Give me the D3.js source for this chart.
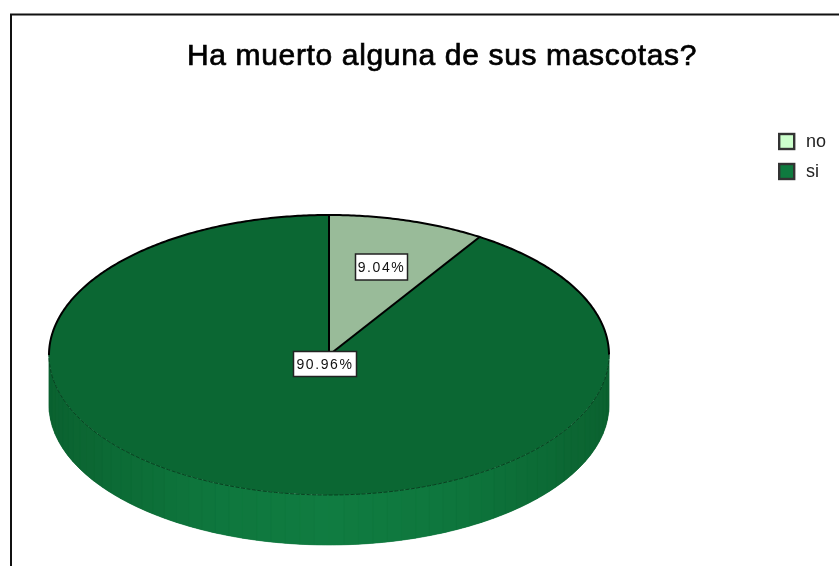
<!DOCTYPE html>
<html><head><meta charset="utf-8">
<script src="https://cdn.jsdelivr.net/npm/d3@7"></script>
<style>html,body{margin:0;padding:0;background:#fff}svg{display:block;filter:blur(0.35px)}text{font-family:"Liberation Sans",Arial,sans-serif}</style>
</head><body><svg id="c" width="839" height="566"></svg>
<script>
const categories = ["no", "si"];
const values = [9.04, 90.96];
const labels = ["9.04%", "90.96%"];
const titleText = "Ha muerto alguna de sus mascotas?";
const sliceColors = ["#99bb99", "#0b6733"];
const legendColors = ["#ccffcc", "#0f7a3f"];

const W = 839, H = 566, cx = 329, cy = 355, rx = 280, ry = 140, depth = 50;
const svg = d3.select("#c");

// frame
svg.append("path").attr("d", d3.line()([[11, H], [11, 14.5], [W, 14.5]]))
  .attr("fill", "none").attr("stroke", "#111").attr("stroke-width", 2);

// title
svg.append("text").attr("x", 442).attr("y", 64.5).attr("text-anchor", "middle")
  .attr("font-size", 30).attr("stroke", "#000").attr("stroke-width", 0.7)
  .attr("letter-spacing", 0.65).attr("fill", "#000").text(titleText);

// scales
const pie = d3.pie().sort(null).value(d => d)(values);
const xOf = a => cx + rx * Math.sin(a), yOf = a => cy - ry * Math.cos(a);
const shade = d3.scaleLinear().domain([0, 0.45, 1]).range(["#107c41", "#0e763d", "#0b6230"]);

// side wall: underlay first so band seams stay invisible
const front = d3.range(Math.PI / 2, 3 * Math.PI / 2 + 0.001, Math.PI / 180);
const wall = front.map(a => [xOf(a), yOf(a)]).concat(front.slice().reverse().map(a => [xOf(a), yOf(a) + depth]));
svg.append("path").attr("d", d3.line()(wall) + "Z").attr("fill", shade(1));
const bandEdges = d3.range(Math.PI / 2, 3 * Math.PI / 2 + 0.001, Math.PI / 60);
const side = svg.append("g");
bandEdges.slice(0, -1).forEach((a0, i) => {
  const a1 = bandEdges[i + 1];
  const pts = d3.range(0, 1.001, 0.25).map(t => a0 + (a1 - a0) * t);
  const top = pts.map(a => [xOf(a), yOf(a)]);
  const bot = pts.slice().reverse().map(a => [xOf(a), yOf(a) + depth]);
  const col = shade(Math.abs(Math.sin((a0 + a1) / 2 - Math.PI)));
  side.append("path").attr("d", d3.line()(top.concat(bot)) + "Z")
    .attr("fill", col).attr("stroke", col).attr("stroke-width", 0.6);
});

// top face
const arc = d3.arc().innerRadius(0).outerRadius(rx);
const topG = svg.append("g").attr("transform", `translate(${cx},${cy}) scale(1,${ry / rx})`);
topG.selectAll("path").data(pie).join("path")
  .attr("d", arc)
  .attr("fill", (d, i) => sliceColors[i]);

// back rim: solid black
svg.append("path")
  .attr("d", d3.line()(d3.range(-Math.PI / 2, Math.PI / 2 + 0.001, 0.01).map(a => [xOf(a), yOf(a)])))
  .attr("fill", "none").attr("stroke", "#000").attr("stroke-width", 2);

// front rim: thin and broken
svg.append("path")
  .attr("d", d3.line()(front.map(a => [xOf(a), yOf(a)])))
  .attr("fill", "none").attr("stroke", "#07401f").attr("stroke-width", 1).attr("stroke-dasharray", "4 1.5");

// radial dividers between slices
pie.forEach(d => {
  svg.append("path").attr("d", d3.line()([[cx, cy], [xOf(d.startAngle), yOf(d.startAngle)]]))
    .attr("stroke", "#000").attr("stroke-width", 2).attr("fill", "none");
});

// value labels
const boxes = [{x: 355.5, y: 254, w: 52, h: 26}, {x: 293.5, y: 351.5, w: 63, h: 25}];
boxes.forEach((b, i) => {
  svg.append("rect").attr("x", b.x).attr("y", b.y).attr("width", b.w).attr("height", b.h)
    .attr("fill", "#fff").attr("stroke", "#222").attr("stroke-width", 1.5);
  svg.append("text").attr("x", b.x + b.w / 2).attr("y", b.y + b.h / 2 + 5)
    .attr("text-anchor", "middle").attr("font-size", 14).attr("letter-spacing", 1.6).attr("fill", "#111").text(labels[i]);
});

// legend
const ly = d3.scalePoint().domain(categories).range([141.5, 171.5]);
categories.forEach((c, i) => {
  svg.append("rect").attr("x", 779.2).attr("y", ly(c) - 7.5).attr("width", 15).attr("height", 15)
    .attr("fill", legendColors[i]).attr("stroke", "#333").attr("stroke-width", 2.4);
  svg.append("text").attr("x", 806).attr("y", ly(c) + 5).attr("font-size", 18).attr("fill", "#222").text(c);
});
</script></body></html>
